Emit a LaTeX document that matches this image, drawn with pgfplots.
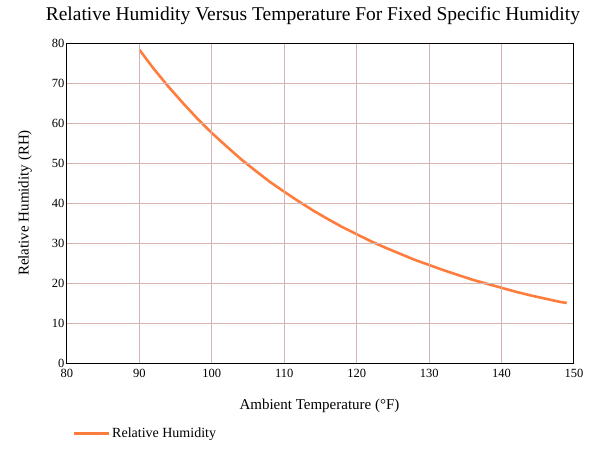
\documentclass[border=0pt]{standalone}
\usepackage{pgfplots}
\pgfplotsset{compat=1.18}
\usepackage{fontspec}
\setmainfont{Liberation Serif}
\definecolor{rhorange}{RGB}{255,125,60}
\definecolor{gridpink}{RGB}{215,178,178}
\begin{document}
\begin{tikzpicture}
\begin{axis}[
    at={(0,0)}, anchor=south west,
    scale only axis,
    width=507pt, height=320pt,
    xmin=80, xmax=150, ymin=0, ymax=80,
    xtick={80,90,...,150}, ytick={0,10,...,80},
    xticklabels={80,90,100,110,120,130,140,150},
    yticklabels={0,10,20,30,40,50,60,70,80},
    grid=major,
    major grid style={gridpink, line width=1pt},
    axis line style={black, line width=1pt},
    axis on top,
    tick style={draw=none},
    ticklabel style={font=\fontsize{12.5}{14}\selectfont},
    xticklabel style={yshift=-3pt},
    yticklabel style={xshift=1pt},
    title={Relative Humidity Versus Temperature For Fixed Specific Humidity},
    title style={font=\fontsize{19.5}{23}\selectfont, at={(axis description cs:0.485,1.066)}, anchor=center},
    xlabel={Ambient Temperature (°F)},
    xlabel style={font=\fontsize{15}{18}\selectfont, at={(axis description cs:0.498,-0.134)}, anchor=center},
    ylabel={Relative Humidity (RH)},
    ylabel style={font=\fontsize{15}{18}\selectfont, at={(axis description cs:-0.083,0.5)}, anchor=center, rotate=0},
    legend style={at={(axis description cs:0.004,-0.219)}, anchor=west, draw=none, fill=none,
        font=\fontsize{14}{17}\selectfont, legend cell align=left},
    legend image code/.code={\draw[rhorange, line width=3pt] (0pt,0pt) -- (35pt,0pt);},
]
\addplot[rhorange, line width=2.6pt, mark=none] coordinates {
(90,78.3) (92,73.5) (94,69.1) (96,65.0) (98,61.1) (100,57.5)
(102,54.2) (104,51.0) (106,48.1) (108,45.3) (110,42.8)
(112,40.4) (114,38.1) (116,36.0) (118,34.0) (120,32.2)
(122,30.4) (124,28.8) (126,27.3) (128,25.8) (130,24.5)
(132,23.2) (134,22.0) (136,20.8) (138,19.8) (140,18.8)
(142,17.8) (144,16.9) (146,16.1) (148,15.3) (149,15.0)
};
\addlegendentry{Relative Humidity}
\end{axis}
\path (-67pt,-98pt) rectangle (535pt,363pt);
\end{tikzpicture}
\end{document}
